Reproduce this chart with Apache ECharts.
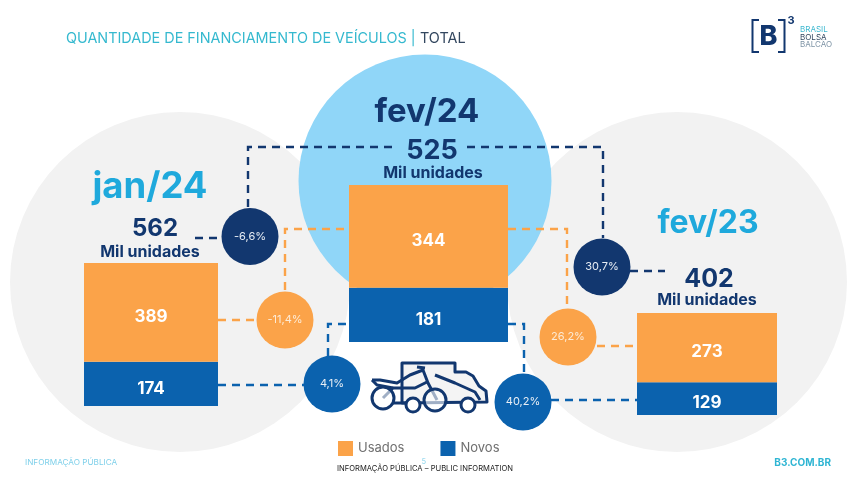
<!DOCTYPE html>
<html>
<head>
<meta charset="utf-8">
<style>html,body{margin:0;padding:0;background:#fff}#main{width:851px;height:478px}</style>
<script src="https://cdn.jsdelivr.net/npm/echarts@6/dist/echarts.min.js"></script>
</head>
<body>
<div id="main"></div>
<script>
var periods = ['jan/24', 'fev/24', 'fev/23'];
var usados = [389, 344, 273];
var novos = [174, 181, 129];
var totais = [562, 525, 402];
var varTotal = ['-6,6%', '30,7%'];
var varUsados = ['-11,4%', '26,2%'];
var varNovos = ['4,1%', '40,2%'];

var FONT = 'Inter';
var NAVY = '#12376f', CYAN = '#1fa9dc', ORANGE = '#fba349', BLUE = '#0b62ae', GREY = '#f2f2f2', SKY = '#90d6f8';

// caixa de cada pilha na tela
var boxes = [
	{ left: 84, top: 263, width: 134, height: 143 },
	{ left: 349, top: 185, width: 159, height: 157 },
	{ left: 637, top: 313, width: 140, height: 102 }
];

var grids = [], xAxes = [], yAxes = [], series = [];
periods.forEach(function (p, i) {
	grids.push(boxes[i]);
	xAxes.push({ gridIndex: i, type: 'category', data: [p], show: false });
	yAxes.push({ gridIndex: i, type: 'value', min: 0, max: usados[i] + novos[i], show: false });
	var lbl = { show: true, position: 'inside', offset: [0, 4.5], color: '#fff', fontFamily: FONT, fontWeight: 700, fontSize: 17 };
	// novos embaixo, usados em cima
	series.push({ name: 'Novos', type: 'bar', stack: p, xAxisIndex: i, yAxisIndex: i, barWidth: '100%', data: [novos[i]], itemStyle: { color: BLUE }, label: lbl, silent: true });
	series.push({ name: 'Usados', type: 'bar', stack: p, xAxisIndex: i, yAxisIndex: i, barWidth: '100%', data: [usados[i]], itemStyle: { color: ORANGE }, label: lbl, silent: true });
});

function disc(x, y, r, color, z) {
	return { type: 'circle', z: z || 0, shape: { cx: x, cy: y, r: r }, style: { fill: color } };
}
function dash(points, color) {
	return { type: 'polyline', z: 1, shape: { points: points }, style: { stroke: color, lineWidth: 2.4, lineDash: [8, 6], fill: null } };
}
function txt(s, x, y, size, color, weight, align) {
	return { type: 'text', z: 5, x: x, y: y, style: { text: s, fontFamily: FONT, fontSize: size, fill: color, fontWeight: weight || 400, align: align || 'center', verticalAlign: 'middle' } };
}
function stroke(points) {
	return { type: 'polyline', z: 4, shape: { points: points }, style: { stroke: NAVY, lineWidth: 3, fill: null, lineJoin: 'round' } };
}
function wheel(x, y, r, fill) {
	return { type: 'circle', z: 4, shape: { cx: x, cy: y, r: r }, style: { stroke: NAVY, lineWidth: 3, fill: fill } };
}

var elements = [
	disc(180, 282, 170, GREY), disc(677, 282, 170, GREY), disc(425, 181, 126.5, SKY, 0.5),

	dash([[248, 207], [248, 147], [397, 147]], NAVY),
	dash([[467, 147], [603, 147], [603, 238]], NAVY),
	dash([[195, 238], [222, 238]], NAVY),
	dash([[630, 271], [665, 271]], NAVY),
	dash([[285, 290], [285, 229], [349, 229]], ORANGE),
	dash([[508, 229], [567, 229], [567, 306]], ORANGE),
	dash([[218, 320], [257, 320]], ORANGE),
	dash([[597, 346], [637, 346]], ORANGE),
	dash([[218, 385], [304, 385]], BLUE),
	dash([[328, 356], [328, 324], [349, 324]], BLUE),
	dash([[508, 324], [524, 324], [524, 374]], BLUE),
	dash([[551, 400], [637, 400]], BLUE),

	disc(250, 236.5, 28.5, NAVY, 3), txt(varTotal[0], 250, 236.5, 11, '#e8eef5'),
	disc(602, 267, 28.5, NAVY, 3), txt(varTotal[1], 602, 267, 11, '#e8eef5'),
	disc(285, 320, 28.5, ORANGE, 3), txt(varUsados[0], 285, 320, 11, '#fdebd6'),
	disc(568, 337, 28.5, ORANGE, 3), txt(varUsados[1], 568, 337, 11, '#fdebd6'),
	disc(332, 384, 28.5, BLUE, 3), txt(varNovos[0], 332, 384, 11, '#e8eef5'),
	disc(523, 402, 28.5, BLUE, 3), txt(varNovos[1], 523, 402, 11, '#e8eef5'),

	// titulo
	txt('QUANTIDADE DE FINANCIAMENTO DE VEÍCULOS |', 66, 39, 14.4, '#35b9cf', 400, 'left'),
	txt('TOTAL', 420, 39, 14.4, '#33475f', 400, 'left'),

	// rotulos dos periodos
	txt(periods[0], 150, 187, 36.5, CYAN, 700),
	txt(totais[0] + '', 155, 229, 24, NAVY, 700),
	txt('Mil unidades', 150, 252, 16, NAVY, 700),
	txt(periods[1], 427, 112, 33, NAVY, 700),
	txt(totais[1] + '', 432, 151, 27, NAVY, 700),
	txt('Mil unidades', 433, 173, 16, NAVY, 700),
	txt(periods[2], 708, 223, 32, CYAN, 700),
	txt(totais[2] + '', 709, 279, 25, NAVY, 700),
	txt('Mil unidades', 707, 300, 16, NAVY, 700),

	// icone dos veiculos
	{ type: 'polygon', z: 4, shape: { points: [[402, 403], [402, 363], [455, 363], [455, 372], [466, 372], [473, 376], [479, 386], [486, 391], [487, 402]] }, style: { stroke: NAVY, lineWidth: 3, fill: '#f4f4f4', lineJoin: 'round' } },
	stroke([[435, 375], [455, 383], [475, 392], [480, 400]]),
	stroke([[372, 380], [380, 380], [397, 383], [410, 375], [423, 370], [428, 383], [437, 400]]),
	stroke([[383, 398], [393, 388], [415, 388], [427, 382]]),
	stroke([[417, 367], [425, 368]]),
	stroke([[372, 380], [377, 385], [393, 388]]),
	stroke([[393, 403], [407, 403]]),
	wheel(383, 398, 11, 'rgba(255,255,255,0.6)'),
	wheel(435, 400, 11, 'rgba(255,255,255,0.6)'),
	wheel(413, 405, 7, '#fff'),
	wheel(468, 405, 7, '#fff'),

	// logo
	{ type: 'polyline', z: 5, shape: { points: [[759, 20], [752.5, 20], [752.5, 52], [759, 52]] }, style: { stroke: NAVY, lineWidth: 2, fill: null } },
	{ type: 'polyline', z: 5, shape: { points: [[778, 20], [784.5, 20], [784.5, 52], [778, 52]] }, style: { stroke: NAVY, lineWidth: 2, fill: null } },
	txt('B', 768.5, 37, 27, NAVY, 800),
	txt('3', 791, 21, 11, NAVY, 700),
	txt('BRASIL', 800, 30, 8, '#3db8d0', 400, 'left'),
	txt('BOLSA', 800, 38, 8, '#33475f', 400, 'left'),
	txt('BALCÃO', 800, 45, 8, '#7d93a5', 400, 'left'),

	// rodape
	txt('INFORMAÇÃO PÚBLICA', 25, 463, 8.2, '#7fd0ea', 400, 'left'),
	txt('B3.COM.BR', 831, 463, 10, '#2fb5d3', 700, 'right'),
	txt('5', 424, 462, 7, '#7fd0ea'),
	txt('INFORMAÇÃO PÚBLICA – PUBLIC INFORMATION', 425, 469, 7.6, '#222', 400)
];

var myChart = echarts.init(document.getElementById('main'));
myChart.setOption({
	animation: false,
	grid: grids,
	xAxis: xAxes,
	yAxis: yAxes,
	series: series,
	legend: {
		left: 333, top: 436, itemWidth: 15, itemHeight: 15, itemGap: 36, icon: 'rect',
		data: ['Usados', 'Novos'],
		textStyle: { color: '#6f6f6f', fontFamily: FONT, fontSize: 13 }
	},
	graphic: { elements: elements }
});
</script>
</body>
</html>
